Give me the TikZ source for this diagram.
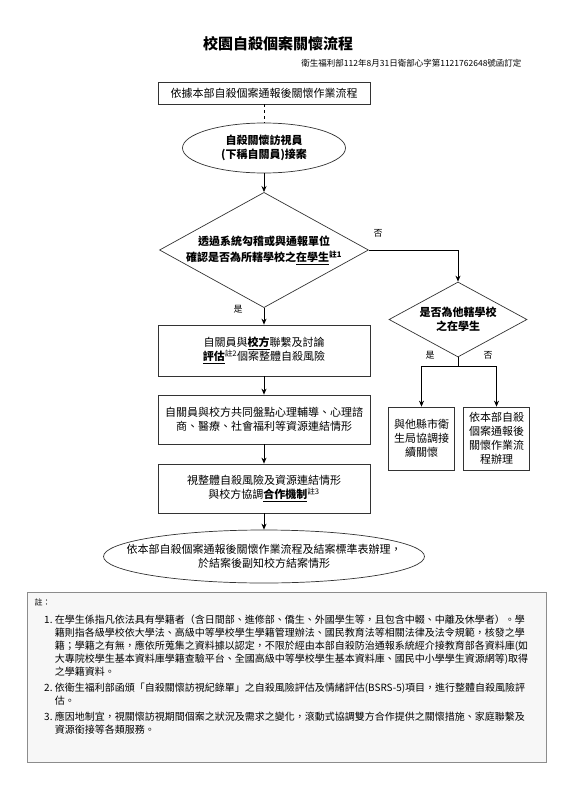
\documentclass[tikz,border=0pt]{standalone}
\usepackage{fontspec}
\setmainfont{Noto Sans CJK TC}
\usepackage{tikz}
\usetikzlibrary{arrows.meta,shapes.geometric}

\begin{document}
\begin{tikzpicture}[x=1pt,y=-1pt,
  every node/.style={font=\fontsize{11}{14}\selectfont},
  boldtxt/.style={font=\fontsize{11}{14}\selectfont\bfseries},
  flowbox/.style={draw=black!80, line width=0.7pt, rectangle, minimum width=212pt, align=center, inner sep=2pt},
  ovalbox/.style={draw=black!80, line width=0.7pt, ellipse, align=center},
  choice/.style={draw=black!80, line width=0.7pt, diamond, align=center, inner sep=0pt},
  sidebox/.style={draw=black!80, line width=0.7pt, rectangle, minimum width=66pt, minimum height=63pt, align=center, inner sep=2pt},
  lbl/.style={font=\fontsize{9}{10}\selectfont, inner sep=0pt},
  conn/.style={line width=0.7pt},
  arr/.style={conn, -{Stealth[length=6pt,width=5pt]}}
]

  % ====== 1) 畫布大小 ======
  \useasboundingbox (0,0) rectangle (570,800);

  % ====== 2) 標題 ======
  \node[font=\fontsize{15}{18}\selectfont\bfseries] (title) at (278,44) {校園自殺個案關懷流程};
  \node[font=\fontsize{8.5}{10}\selectfont, anchor=east] (ref) at (525,63)
    {衛生福利部112年8月31日衛部心字第1121762648號函訂定};

  % ====== 3) 主流程 ======
  \node[flowbox, minimum height=22pt] (start) at (264,93) {依據本部自殺個案通報後關懷作業流程};
  \node[ovalbox, boldtxt, minimum width=163pt, minimum height=50pt] (visit) at (264,148)
    {自殺關懷訪視員\\(下稱自關員)接案};
  \node[choice, boldtxt, minimum width=209pt, minimum height=115pt, aspect=1.8] (check) at (264,250)
    {透過系統勾稽或與通報單位\\[2pt]確認是否為所轄學校之\underline{在學生}\textsuperscript{註1}};
  \node[flowbox, minimum height=51pt] (contact) at (264,350.5)
    {自關員與\textbf{\underline{校方}}聯繫及討論\\\textbf{\underline{評估}}\textsuperscript{註2}個案整體自殺風險};
  \node[flowbox, minimum height=49pt] (review) at (264,419.5)
    {自關員與校方共同盤點心理輔導、心理諮\\商、醫療、社會福利等資源連結情形};
  \node[flowbox, minimum height=49pt] (coop) at (264,488.5)
    {視整體自殺風險及資源連結情形\\與校方協調\textbf{\underline{合作機制}}\textsuperscript{註3}};
  \node[ovalbox, minimum width=321pt, minimum height=53pt, inner xsep=-30pt, inner ysep=0pt] (close) at (264,556.5)
    {依本部自殺個案通報後關懷作業流程及結案標準表辦理，\\於結案後副知校方結案情形};

  % ====== 4) 右側分支 ======
  \node[choice, boldtxt, minimum width=138pt, minimum height=75pt, aspect=1.84] (other) at (458,319.5)
    {是否為他轄學校\\之在學生};
  \coordinate (split) at (458,366);
  \node[sidebox] (county) at (421.5,438.5) {與他縣市衛\\生局協調接\\續關懷};
  \node[sidebox] (self) at (496.5,438.5) {依本部自殺\\個案通報後\\關懷作業流\\程辦理};

  % ====== 5) 連線 ======
  \draw[conn, dashed] (start) -- (visit);
  \draw[arr] (visit) -- (check);
  \draw[arr] (check) -- (contact);
  \draw[arr] (contact) -- (review);
  \draw[arr] (review) -- (coop);
  \draw[arr] (coop) -- (close);
  \draw[arr] (check.east) -| (other.north);
  \draw[conn] (other.south) -- (split);
  \draw[arr] (split) -| (county.north);
  \draw[arr] (split) -| (self.north);

  % ====== 6) 是／否 ======
  \node[lbl] (no1) at (378,233) {否};
  \node[lbl] (yes1) at (238,309) {是};
  \node[lbl] (yes2) at (430,355) {是};
  \node[lbl] (no2) at (488,355) {否};

  % ====== 7) 註 ======
  \node[draw=black!45, fill=black!3, line width=0.7pt, minimum width=519pt, minimum height=170pt] (notes) at (286.5,677) {};
  \node[font=\fontsize{8}{9}\selectfont, anchor=west] (notehead) at (31,602) {註：};
  \node[anchor=north west, font=\fontsize{10}{13}\selectfont, inner sep=0pt] (notelist) at (44,614) {%
    \begin{tabular}{@{}r@{\ }l@{}}
    1. & 在學生係指凡依法具有學籍者（含日間部、進修部、僑生、外國學生等，且包含中輟、中離及休學者）。學\\
       & 籍則指各級學校依大學法、高級中等學校學生學籍管理辦法、國民教育法等相關法律及法令規範，核發之學\\
       & 籍；學籍之有無，應依所蒐集之資料據以認定，不限於經由本部自殺防治通報系統經介接教育部各資料庫(如\\
       & 大專院校學生基本資料庫學籍查驗平台、全國高級中等學校學生基本資料庫、國民中小學學生資源網等)取得\\
       & 之學籍資料。\\[3pt]
    2. & 依衛生福利部函頒「自殺關懷訪視紀錄單」之自殺風險評估及情緒評估(BSRS-5)項目，進行整體自殺風險評\\
       & 估。\\[3pt]
    3. & 應因地制宜，視關懷訪視期間個案之狀況及需求之變化，滾動式協調雙方合作提供之關懷措施、家庭聯繫及\\
       & 資源銜接等各類服務。
    \end{tabular}};

\end{tikzpicture}
\end{document}
